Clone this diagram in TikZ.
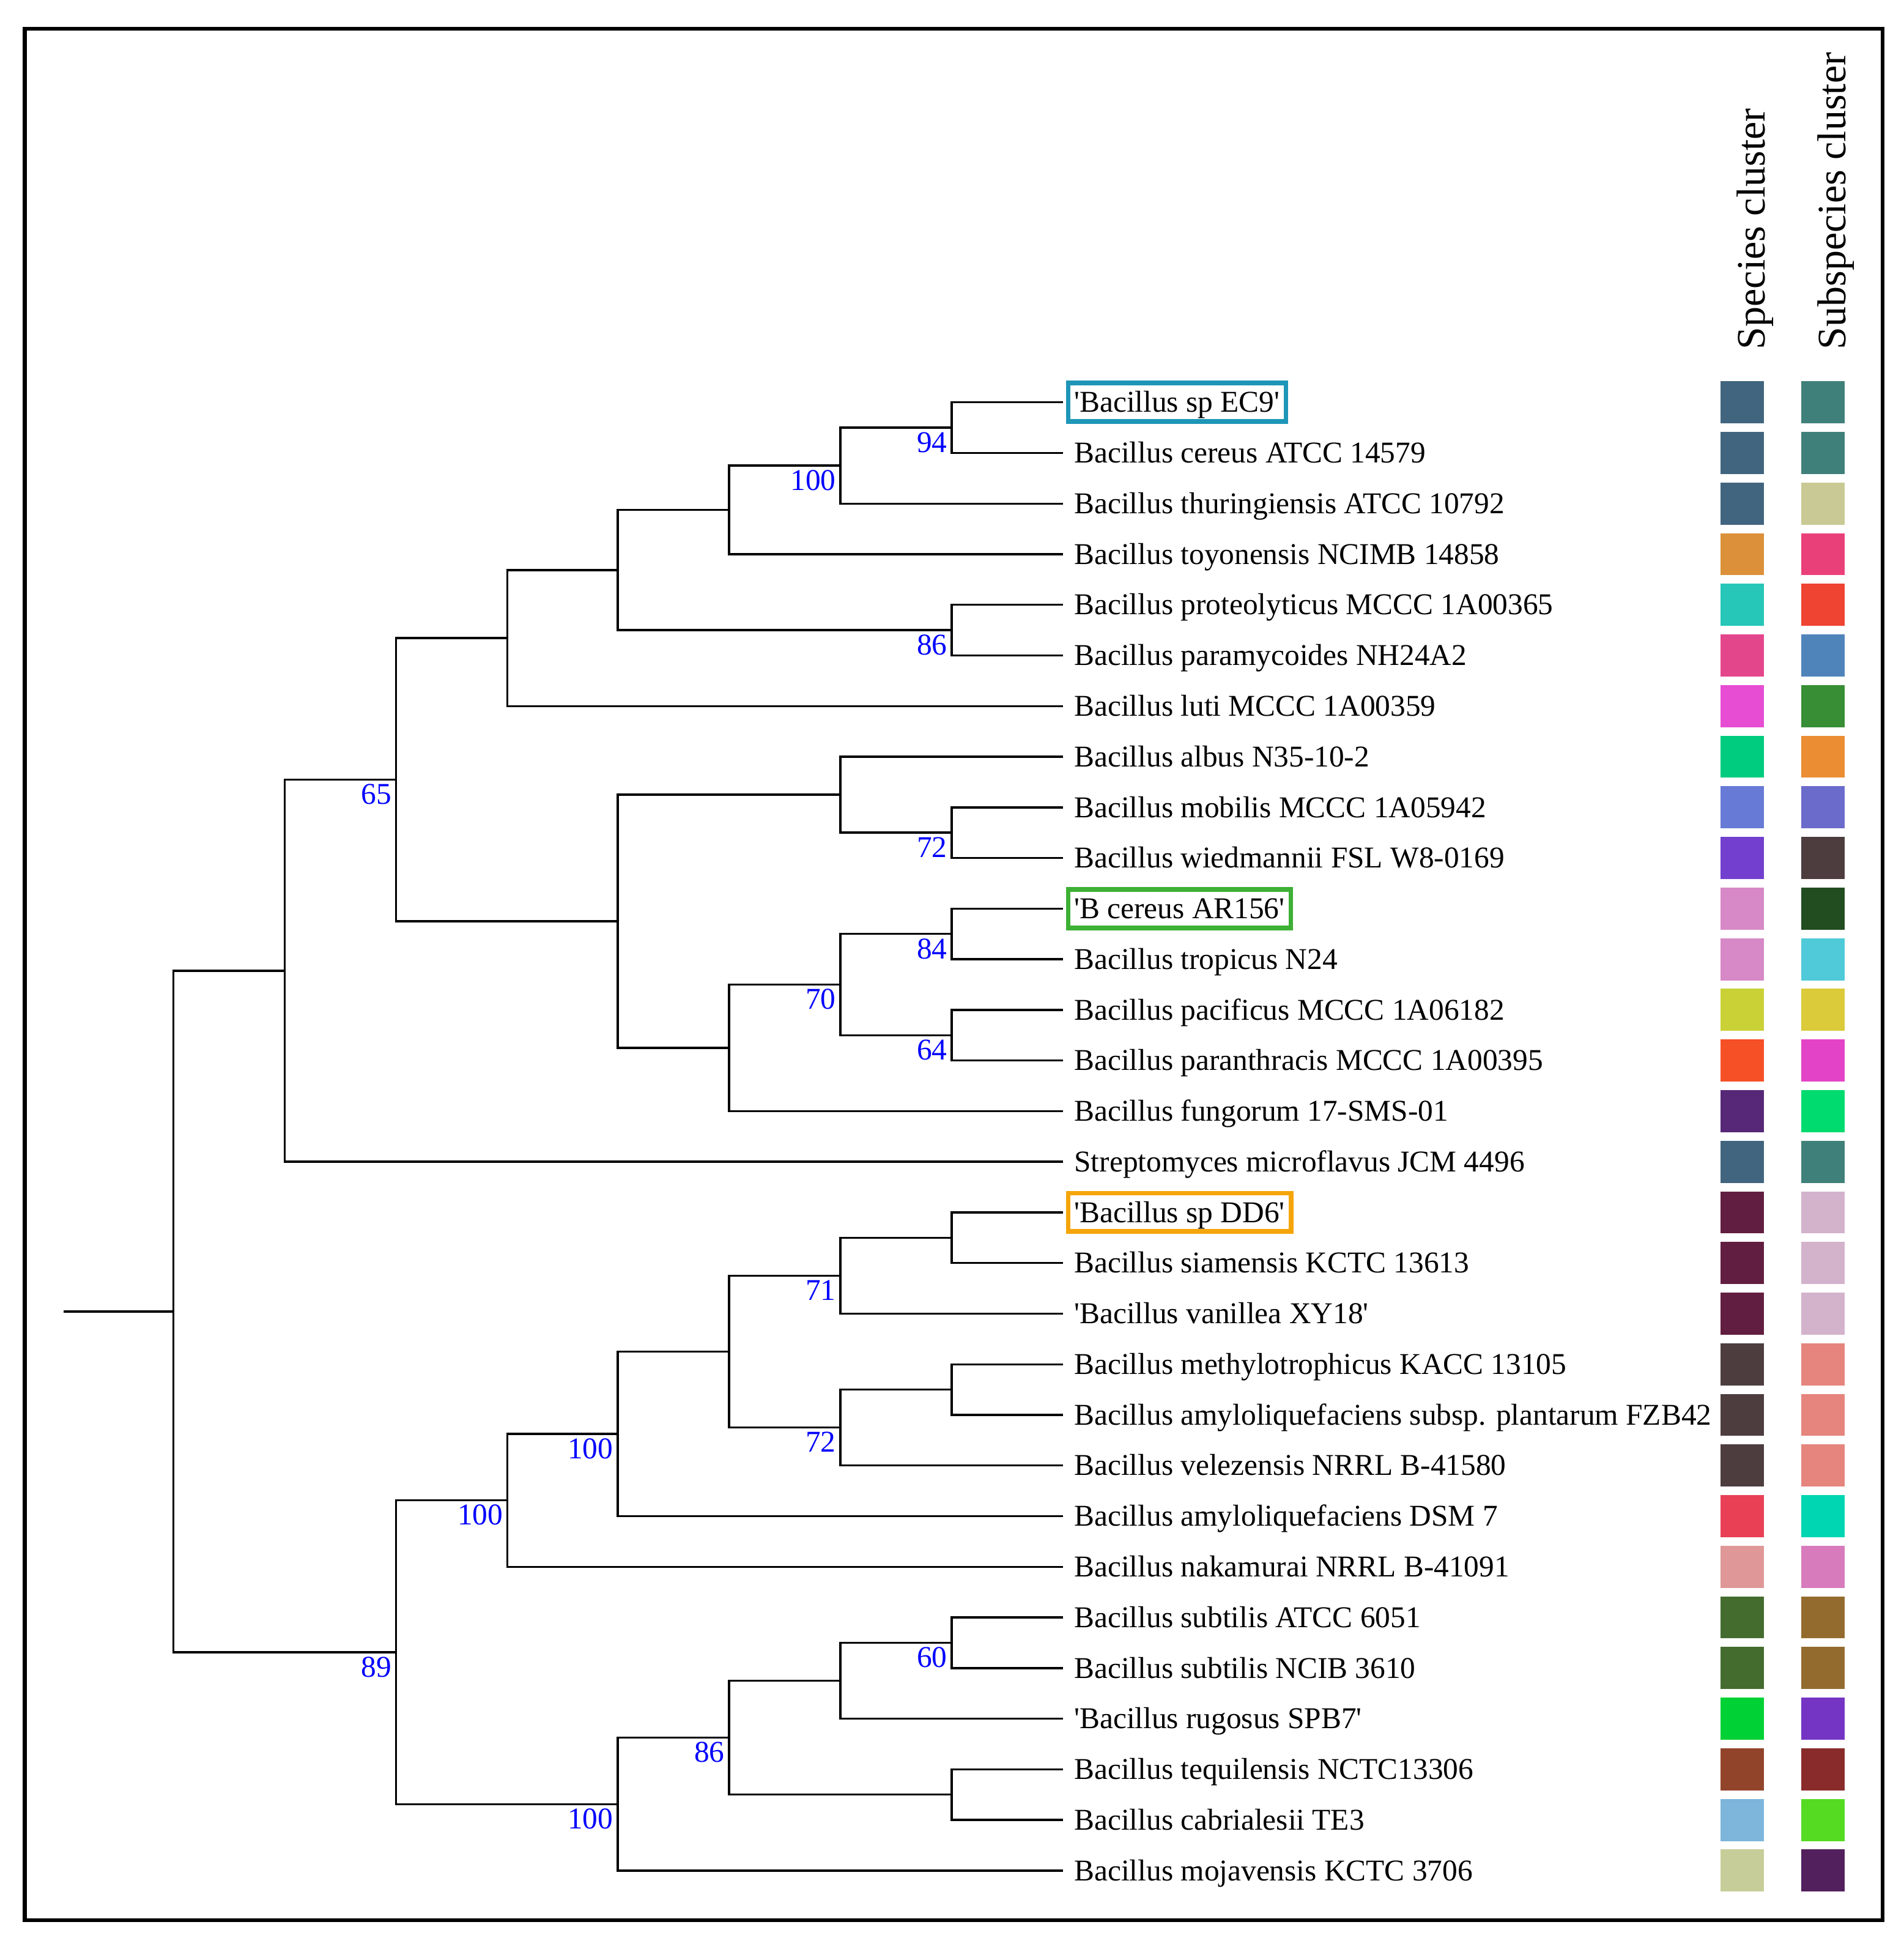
\documentclass[tikz,border=0pt]{standalone}
\usepackage{fontspec}
\setmainfont{Liberation Serif}
\usetikzlibrary{calc, positioning}

\definecolor{ec9col}{HTML}{1E96B8}
\definecolor{ar156col}{HTML}{3DB035}
\definecolor{dd6col}{HTML}{F5A50A}

\newcommand\sq{\textquotesingle}
% clade: name, x position, upper child, lower child
\newcommand\clade[4]{%
  \path let \p1=($(#3)!.5!(#4)$) in coordinate (#1) at (#2*0.1mm,\y1);
  \draw[branch] (#3) -| (#1) |- (#4);
}

\begin{document}
\begin{tikzpicture}[x=0.1mm, y=-0.1mm,
    branch/.style={line width=0.17mm, line cap=rect},
    taxon/.style={font=\fontsize{6.94}{8}\selectfont, anchor=west,
      inner xsep=0.5mm, inner ysep=0.15mm, outer xsep=0.5mm, outer ysep=0pt,
      text height=2.2mm, text depth=0.6mm, line width=0.38mm},
    swatch/.style={minimum width=3.5mm, minimum height=3.4mm, inner sep=0pt},
    boot/.style={font=\fontsize{6.94}{8}\selectfont, text=blue,
      anchor=north east, inner sep=0.3mm},
    header/.style={font=\fontsize{9.28}{11}\selectfont, rotate=90,
      anchor=base west, inner sep=0pt}]

  \useasboundingbox (0,0) rectangle (1538,1568);
  \draw[line width=0.3mm] (20,23) rectangle (1521,1551);

  \node[header] (hsp) at (1426,283) {Species cluster};
  \node[header] (hss) at (1491,283) {Subspecies cluster};

  % leaves with their two cluster colours
  \foreach \txt/\hl/\sa/\sb [count=\i] in {
      \sq Bacillus sp EC9\sq/ec9col/41657F/40807A,
      Bacillus cereus ATCC 14579/none/41657F/40807A,
      Bacillus thuringiensis ATCC 10792/none/41657F/C9C995,
      Bacillus toyonensis NCIMB 14858/none/DB9039/EA407A,
      Bacillus proteolyticus MCCC 1A00365/none/26C6B9/EE4431,
      Bacillus paramycoides NH24A2/none/E4468C/4F84BB,
      Bacillus luti MCCC 1A00359/none/E64DD2/378E34,
      Bacillus albus N35-10-2/none/00CC80/EB8D33,
      Bacillus mobilis MCCC 1A05942/none/677AD6/6B6BCC,
      Bacillus wiedmannii FSL W8-0169/none/723FCE/4D3D3F,
      \sq B cereus AR156\sq/ar156col/D689C6/214D20,
      Bacillus tropicus N24/none/D689C6/50CAD8,
      Bacillus pacificus MCCC 1A06182/none/CAD136/DBCA3A,
      Bacillus paranthracis MCCC 1A00395/none/F55026/E343C6,
      Bacillus fungorum 17-SMS-01/none/572877/00DB6F,
      Streptomyces microflavus JCM 4496/none/41657F/40807A,
      \sq Bacillus sp DD6\sq/dd6col/621E40/D3B2CC,
      Bacillus siamensis KCTC 13613/none/621E40/D3B2CC,
      \sq Bacillus vanillea XY18\sq/none/621E40/D3B2CC,
      Bacillus methylotrophicus KACC 13105/none/4D3D3F/E5857D,
      Bacillus amyloliquefaciens subsp. plantarum FZB42/none/4D3D3F/E5857D,
      Bacillus velezensis NRRL B-41580/none/4D3D3F/E5857D,
      Bacillus amyloliquefaciens DSM 7/none/E94056/00D6B2,
      Bacillus nakamurai NRRL B-41091/none/DF9897/D77BBD,
      Bacillus subtilis ATCC 6051/none/446C2F/946B2F,
      Bacillus subtilis NCIB 3610/none/446C2F/946B2F,
      \sq Bacillus rugosus SPB7\sq/none/00D135/7535C4,
      Bacillus tequilensis NCTC13306/none/92442A/8A2B2B,
      Bacillus cabrialesii TE3/none/7DB5DB/55DB22,
      Bacillus mojavensis KCTC 3706/none/C7CD99/53205E}{
    \pgfmathsetmacro\yy{325+40.9*(\i-1)}
    \definecolor{spc}{HTML}{\sa}
    \definecolor{ssc}{HTML}{\sb}
    \node[taxon, draw=\hl] (l\i) at (858,\yy) {\txt};
    \node[swatch, fill=spc] (sp\i) at (1407.5,\yy) {};
    \node[swatch, fill=ssc] (ss\i) at (1473,\yy) {};
  }

  % upper half of the tree
  \clade{c1}{769}{l1}{l2}
  \clade{c2}{679}{c1}{l3}
  \clade{c3}{589}{c2}{l4}
  \clade{c4}{769}{l5}{l6}
  \clade{c5}{499}{c3}{c4}
  \clade{c6}{410}{c5}{l7}
  \clade{c7}{769}{l9}{l10}
  \clade{c8}{679}{l8}{c7}
  \clade{c9}{769}{l11}{l12}
  \clade{c10}{769}{l13}{l14}
  \clade{c11}{679}{c9}{c10}
  \clade{c12}{589}{c11}{l15}
  \clade{c13}{499}{c8}{c12}
  \clade{c14}{320}{c6}{c13}
  \clade{c15}{230}{c14}{l16}

  % lower half of the tree
  \clade{c16}{769}{l17}{l18}
  \clade{c17}{679}{c16}{l19}
  \clade{c18}{769}{l20}{l21}
  \clade{c19}{679}{c18}{l22}
  \clade{c20}{589}{c17}{c19}
  \clade{c21}{499}{c20}{l23}
  \clade{c22}{410}{c21}{l24}
  \clade{c23}{769}{l25}{l26}
  \clade{c24}{679}{c23}{l27}
  \clade{c25}{769}{l28}{l29}
  \clade{c26}{589}{c24}{c25}
  \clade{c27}{499}{c26}{l30}
  \clade{c28}{320}{c22}{c27}
  \clade{c29}{140}{c15}{c28}

  \path let \p1=(c29) in coordinate (root) at (5.2mm,\y1);
  \draw[branch] (root) -- (c29);

  % bootstrap values
  \node[boot] (b1) at (c1) {94};
  \node[boot] (b2) at (c2) {100};
  \node[boot] (b4) at (c4) {86};
  \node[boot] (b7) at (c7) {72};
  \node[boot] (b9) at (c9) {84};
  \node[boot] (b10) at (c10) {64};
  \node[boot] (b11) at (c11) {70};
  \node[boot] (b14) at (c14) {65};
  \node[boot] (b17) at (c17) {71};
  \node[boot] (b19) at (c19) {72};
  \node[boot] (b21) at (c21) {100};
  \node[boot] (b22) at (c22) {100};
  \node[boot] (b23) at (c23) {60};
  \node[boot] (b26) at (c26) {86};
  \node[boot] (b27) at (c27) {100};
  \node[boot] (b28) at (c28) {89};
\end{tikzpicture}
\end{document}
